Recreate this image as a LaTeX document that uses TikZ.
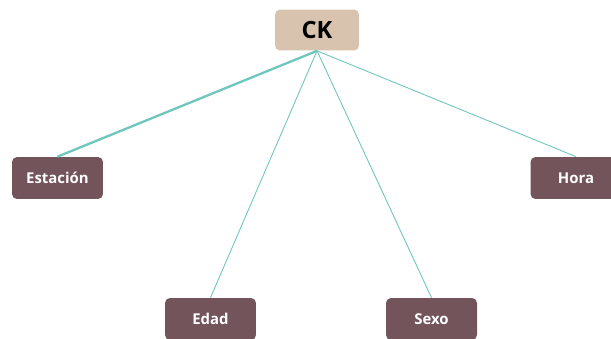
\documentclass[tikz,border=0pt]{standalone}
\usepackage{fontspec}
\setmainfont{Open Sans}
\usepackage{xcolor}
\usepackage{tikz}
\usetikzlibrary{positioning}
\definecolor{Tan}{HTML}{D8C3AE}
\definecolor{Plum}{HTML}{74545B}
\definecolor{Teal}{HTML}{6EC6BC}

\begin{document}
\begin{tikzpicture}[x=0.02cm,y=-0.02cm,
  every node/.style={font=\bfseries,inner sep=2pt},
  root/.style={fill=Tan,text=black,rounded corners=0.1cm,
    minimum width=1.68cm,minimum height=0.82cm,font=\bfseries\fontsize{13.5}{15}\selectfont},
  leaf/.style={fill=Plum,text=white,rounded corners=0.1cm,
    minimum width=1.82cm,minimum height=0.84cm,font=\bfseries\fontsize{8.5}{10}\selectfont},
  link/.style={draw=Teal,line width=0.5pt}]
\clip (0,0) rectangle (611,338);

\node[root] (ck) at (317,30) {CK};
\node[leaf] (estacion) at (57.5,178) {Estación};
\node[leaf] (hora) at (576,178) {Hora};
\node[leaf] (edad) at (210.5,319) {Edad};
\node[leaf] (sexo) at (431.5,319) {Sexo};

% the first branch is drawn heavier than the rest
\draw[link,line width=1.3pt] (ck.south) -- (estacion.north);
\foreach \v in {edad,sexo,hora} \draw[link] (ck.south) -- (\v.north);
\end{tikzpicture}
\end{document}
